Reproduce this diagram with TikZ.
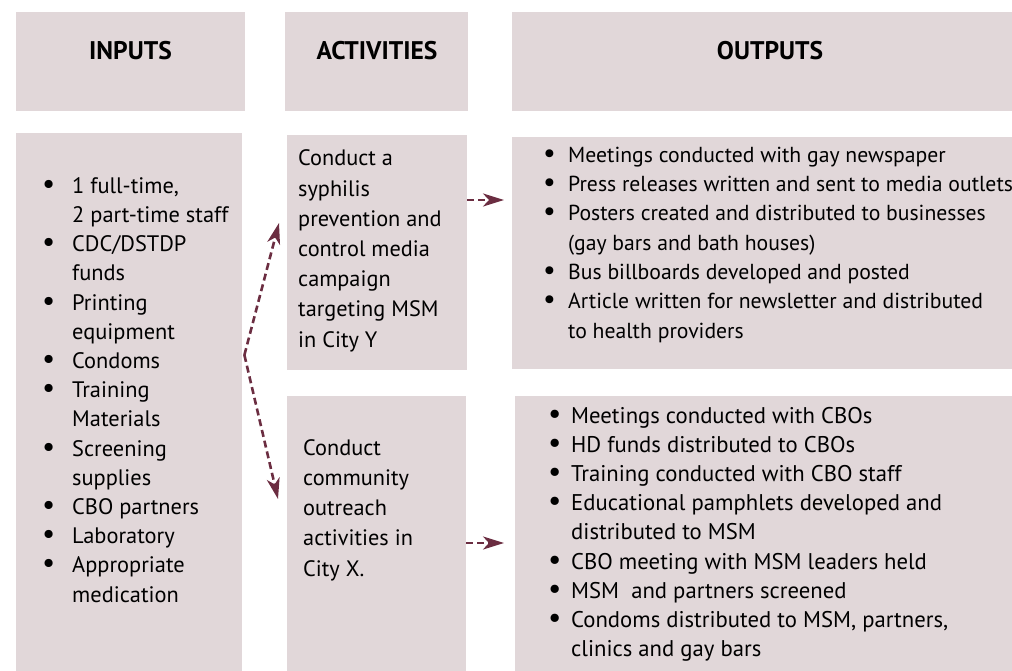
\documentclass[tikz,border=0pt]{standalone}
\usepackage{fontspec}
\setmainfont{PT Sans}
\usetikzlibrary{arrows.meta,calc}
\definecolor{boxfill}{HTML}{E1D7D9}
\definecolor{arrcol}{HTML}{6B2D41}
\newcommand\bl[1]{\makebox[#1][l]{\hspace{2pt}\scalebox{1.3}{\textbullet}}}
\newcommand\ind[1]{\hspace*{#1}}
\tikzset{
  box/.style={fill=boxfill, draw=none, inner sep=0pt, anchor=north west},
  hd/.style={anchor=base, inner sep=0pt, font={\fontsize{25.5}{30}\selectfont\bfseries}},
  txtI/.style={anchor=base west, inner sep=0pt, align=left, font={\fontsize{22.4}{29.2}\selectfont}},
  txtA/.style={anchor=base west, inner sep=0pt, align=left, font={\fontsize{21.7}{29.3}\selectfont}},
  txtB/.style={anchor=base west, inner sep=0pt, align=left, font={\fontsize{22.7}{29.2}\selectfont}},
  txtC/.style={anchor=base west, inner sep=0pt, align=left, font={\fontsize{22.3}{30.2}\selectfont}},
  arr/.style={draw=arrcol, line width=2.6pt, dash pattern=on 7pt off 4pt,
    -{Stealth[length=21pt,width=13pt,inset=6pt]}}
}
\begin{document}
\begin{tikzpicture}[x=1pt,y=-1pt]
\useasboundingbox (0,0) rectangle (1012,671);
% header boxes
\node[box, minimum width=229pt, minimum height=99pt] (hin) at (16,12) {};
\node[box, minimum width=183pt, minimum height=99pt] (hact) at (285,12) {};
\node[box, minimum width=500pt, minimum height=99pt] (hout) at (512,12) {};
\node[hd] (tin) at (130.5,60) {INPUTS};
\node[hd] (tact) at (377,60) {ACTIVITIES};
\node[hd] (tout) at (770,60) {OUTPUTS};
% content boxes
\node[box, minimum width=226pt, minimum height=538pt] (in) at (16,133) {};
\node[box, minimum width=180pt, minimum height=235pt] (act1) at (287,135) {};
\node[box, minimum width=179pt, minimum height=275pt] (act2) at (287,396) {};
\node[box, minimum width=500pt, minimum height=232pt] (out1) at (512,137) {};
\node[box, minimum width=497pt, minimum height=275pt] (out2) at (515,396) {};
% texts (anchored at the baseline of the last line)
\node[txtI] (inT) at (40,602) {\bl{32pt}1 full-time,\\ \ind{32pt}2 part-time staff\\
\bl{32pt}CDC/DSTDP\\ \ind{32pt}funds\\
\bl{32pt}Printing\\ \ind{32pt}equipment\\
\bl{32pt}Condoms\\
\bl{32pt}Training\\ \ind{32pt}Materials\\
\bl{32pt}Screening\\ \ind{32pt}supplies\\
\bl{32pt}CBO partners\\
\bl{32pt}Laboratory\\
\bl{32pt}Appropriate\\ \ind{32pt}medication};
\node[txtC] (a1T) at (298,347) {Conduct a\\ syphilis\\ prevention and\\ control media\\ campaign\\ targeting MSM\\ in City Y};
\node[txtC] (a2T) at (303,576) {Conduct\\ community\\ outreach\\ activities in\\ City X.};
\node[txtA] (o1T) at (541,338) {\bl{27pt}Meetings conducted with gay newspaper\\
\bl{27pt}Press releases written and sent to media outlets\\
\bl{27pt}Posters created and distributed to businesses\\
\ind{27pt}(gay bars and bath houses)\\
\bl{27pt}Bus billboards developed and posted\\
\bl{27pt}Article written for newsletter and distributed\\
\ind{27pt}to health providers};
\node[txtB] (o2T) at (546,656.6) {\bl{25pt}Meetings conducted with CBOs\\
\bl{25pt}HD funds distributed to CBOs\\
\bl{25pt}Training conducted with CBO staff\\
\bl{25pt}Educational pamphlets developed and\\
\ind{25pt}distributed to MSM\\
\bl{25pt}CBO meeting with MSM leaders held\\
\bl{25pt}MSM\ \ and partners screened\\
\bl{25pt}Condoms distributed to MSM, partners,\\
\ind{25pt}clinics and gay bars};
% connectors
\coordinate (v) at ($(in.north east)+(2,222)$);
\draw[arr] (v) -- ($(act1.north west)+(-8,88)$);
\draw[arr] (v) -- ($(act2.north west)+(-9,103)$);
\draw[arr] ($(act1.north east)+(0,65)$) -- ($(out1.north west)+(-8,63)$);
\draw[arr] ($(act2.north east)+(0,147)$) -- ($(out2.north west)+(-11,147)$);
\end{tikzpicture}
\end{document}
